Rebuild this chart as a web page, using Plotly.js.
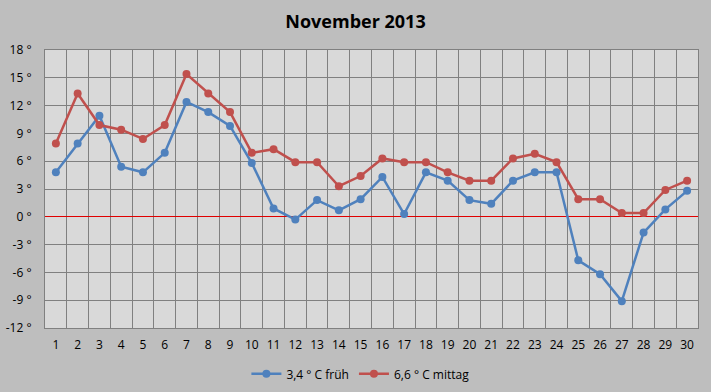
<!DOCTYPE html>
<html><head><meta charset="utf-8">
<script src="https://cdn.plot.ly/plotly-3.0.1.min.js"></script>
<style>html,body{margin:0;padding:0;background:#bebebe;}</style>
</head><body>
<div id="chart" style="width:711px;height:392px;"></div>
<script>
const days = [1,2,3,4,5,6,7,8,9,10,11,12,13,14,15,16,17,18,19,20,21,22,23,24,25,26,27,28,29,30];
const frueh = [4.8,7.9,10.9,5.4,4.8,6.9,12.4,11.3,9.8,5.8,0.9,-0.3,1.8,0.7,1.9,4.3,0.3,4.8,3.9,1.8,1.4,3.9,4.8,4.8,-4.7,-6.2,-9.1,-1.7,0.8,2.8];
const mittag = [7.9,13.3,9.9,9.4,8.4,9.9,15.4,13.3,11.3,6.9,7.3,5.9,5.9,3.3,4.4,6.3,5.9,5.9,4.8,3.9,3.9,6.3,6.8,5.9,1.9,1.9,0.4,0.4,2.9,3.9];
const yTicks = [-12,-9,-6,-3,0,3,6,9,12,15,18];
const yTickText = yTicks.map(v => v + ' °');
const seriesNames = ['3,4 ° C früh', '6,6 ° C mittag'];

const traces = [
  {x: days, y: frueh, name: seriesNames[0], type: 'scatter', mode: 'lines+markers',
   line: {color: '#4f81bd', width: 2.5}, marker: {color: '#4f81bd', size: 8}},
  {x: days, y: mittag, name: seriesNames[1], type: 'scatter', mode: 'lines+markers',
   line: {color: '#c0504d', width: 2.5}, marker: {color: '#c0504d', size: 8}}
];

const layout = {
  width: 711, height: 392,
  paper_bgcolor: '#bebebe', plot_bgcolor: '#d9d9d9',
  margin: {l: 45, r: 13, t: 50, b: 64, autoexpand: false},
  font: {family: 'Open Sans, DejaVu Sans, sans-serif', size: 12, color: '#000'},
  title: {text: '<b>November 2013</b>', x: 0.5, xanchor: 'center', y: 0.945, yanchor: 'middle',
          font: {size: 18, color: '#000'}},
  showlegend: true,
  legend: {orientation: 'h', x: 0.483, xanchor: 'center', y: -0.165, yanchor: 'middle',
           font: {size: 12}, bgcolor: 'rgba(0,0,0,0)', itemwidth: 30, tracegroupgap: 0},
  xaxis: {range: [0.5, 30.5], tickvals: days, ticktext: days.map(String),
          showgrid: false, zeroline: false, showline: true, linecolor: '#808080', linewidth: 1, mirror: true,
          ticks: 'outside', ticklen: 6, tickcolor: 'rgba(0,0,0,0)',
          minor: {tick0: 0.5, dtick: 1, showgrid: true, gridcolor: '#808080', gridwidth: 1, ticks: ''},
          fixedrange: true},
  yaxis: {range: [-12, 18], tickvals: yTicks, ticktext: yTickText,
          showgrid: true, gridcolor: '#808080', gridwidth: 1,
          zeroline: true, zerolinecolor: '#e00000', zerolinewidth: 1,
          showline: true, linecolor: '#808080', linewidth: 1, mirror: true,
          ticks: 'outside', ticklen: 10, tickcolor: 'rgba(0,0,0,0)', fixedrange: true}
};

Plotly.newPlot('chart', traces, layout, {displayModeBar: false, staticPlot: true});
</script>
</body></html>
